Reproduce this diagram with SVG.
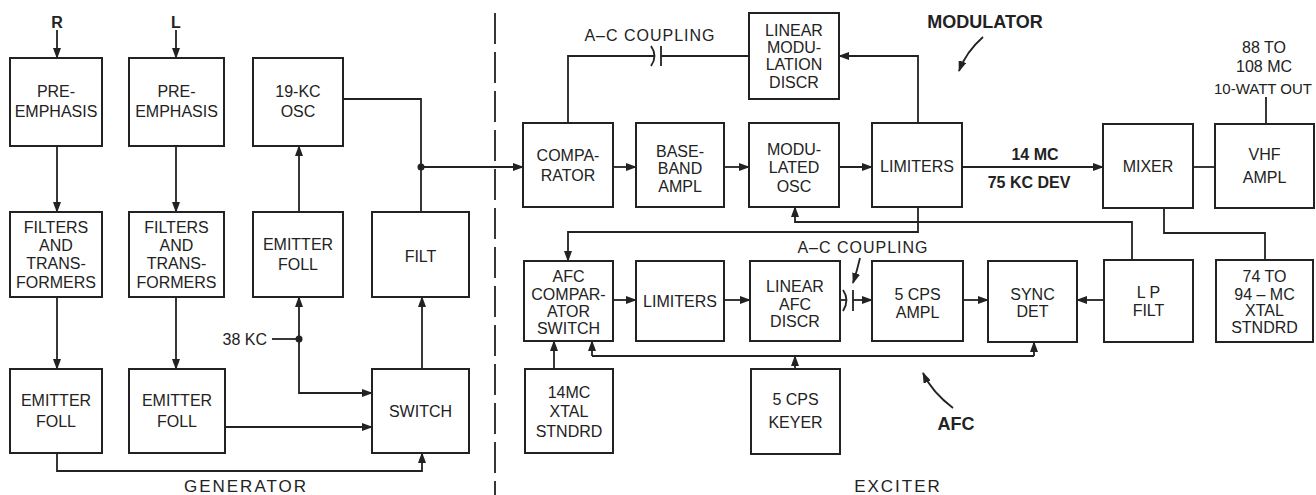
<svg xmlns="http://www.w3.org/2000/svg" width="1316" height="495" viewBox="0 0 1316 495">
<defs>
<marker id="ah" markerUnits="userSpaceOnUse" markerWidth="11" markerHeight="8" refX="10" refY="4" orient="auto">
<path d="M0,0 L11,4 L0,8 z" fill="#222"/>
</marker>
<style>
.b{fill:#fff;stroke:#222;stroke-width:2}
.t{font-family:"Liberation Sans",Arial,sans-serif;font-size:16px;fill:#222;text-anchor:middle}
.l{font-family:"Liberation Sans",Arial,sans-serif;font-size:16px;fill:#222}
.big{font-family:"Liberation Sans",Arial,sans-serif;font-size:17px;fill:#222;text-anchor:middle;letter-spacing:2px}
.c{fill:none;stroke:#222;stroke-width:1.8}
.a{marker-end:url(#ah)}
</style>
</defs>
<rect width="1316" height="495" fill="#fff"/>
<g id="connectors">
<path class="c a" d="M57,30 V58"/>
<path class="c a" d="M176,30 V58"/>
<path class="c a" d="M57,146 V212"/>
<path class="c a" d="M176,146 V212"/>
<path class="c a" d="M57,297 V369"/>
<path class="c a" d="M176,297 V369"/>
<path class="c a" d="M299,212 V146"/>
<path class="c" d="M272,339 H299"/>
<path class="c a" d="M299,339 V297"/>
<path class="c a" d="M299,339 V393 H372"/>
<circle cx="299" cy="339" r="3.5" fill="#222"/>
<path class="c a" d="M225,427 H372"/>
<path class="c a" d="M57,453 V471 H422 V453"/>
<path class="c a" d="M422,369 V297"/>
<path class="c" d="M343,99 H421 V212"/>
<circle cx="421" cy="167" r="3.5" fill="#222"/>
<path class="c a" d="M421,167 H523"/>
<path class="c a" d="M613,167 H636"/>
<path class="c a" d="M724,167 H749"/>
<path class="c a" d="M839,167 H872"/>
<path class="c a" d="M962,167 H1103"/>
<path class="c" d="M1193,167 H1215"/>
<path class="c" d="M1266,124 V97"/>
<path class="c" d="M1164,208 V233 H1265 V260"/>
<path class="c a" d="M918,123 V56 H839"/>
<path class="c" d="M749,56 H661"/>
<path class="c" d="M661,46 V66"/>
<path class="c" d="M651,46 Q658,56 651,66"/>
<path class="c" d="M655,56 H568 V123"/>
<path class="c a" d="M918,207 V232 H568 V261"/>
<path class="c a" d="M1132,260 V222 H795 V207"/>
<path class="c a" d="M1104,300 H1077"/>
<path class="c a" d="M613,300 H636"/>
<path class="c a" d="M724,300 H750"/>
<path class="c" d="M840,300 H847"/>
<path class="c" d="M843,290 Q850,300 843,311"/>
<path class="c" d="M853,290 V311"/>
<path class="c a" d="M853,300 H872"/>
<path class="c a" d="M963,300 H988"/>
<path class="c a" d="M554,369 V341"/>
<path class="c" d="M592,356 H1034"/>
<path class="c a" d="M592,356 V341"/>
<path class="c a" d="M1034,356 V342"/>
<path class="c a" d="M795,369 V356"/>
<path class="c a" d="M983,37 Q966,52 959,71"/>
<path class="c a" d="M953,408 Q932,392 923,373"/>
<path class="c a" d="M860,258 Q857,271 853,283"/>
<path d="M495,13 V495" stroke="#222" stroke-width="1.8" stroke-dasharray="31 8"/>
</g>
<g id="preR"><rect class="b" x="10" y="58" width="92" height="88"/><text class="t" x="56" y="97">PRE-</text><text class="t" x="56" y="117">EMPHASIS</text></g>
<g id="preL"><rect class="b" x="129" y="58" width="95" height="88"/><text class="t" x="176.5" y="97">PRE-</text><text class="t" x="176.5" y="117">EMPHASIS</text></g>
<g id="osc19"><rect class="b" x="253" y="58" width="90" height="88"/><text class="t" x="298" y="97">19-KC</text><text class="t" x="298" y="117">OSC</text></g>
<g id="filtR"><rect class="b" x="10" y="212" width="92" height="85"/><text class="t" x="56" y="233">FILTERS</text><text class="t" x="56" y="251">AND</text><text class="t" x="56" y="269">TRANS-</text><text class="t" x="56" y="288">FORMERS</text></g>
<g id="filtL"><rect class="b" x="129" y="212" width="95" height="85"/><text class="t" x="176.5" y="233">FILTERS</text><text class="t" x="176.5" y="251">AND</text><text class="t" x="176.5" y="269">TRANS-</text><text class="t" x="176.5" y="288">FORMERS</text></g>
<g id="efMid"><rect class="b" x="253" y="212" width="90" height="85"/><text class="t" x="298" y="250">EMITTER</text><text class="t" x="298" y="270">FOLL</text></g>
<g id="efR"><rect class="b" x="10" y="369" width="92" height="84"/><text class="t" x="56" y="406">EMITTER</text><text class="t" x="56" y="427">FOLL</text></g>
<g id="efL"><rect class="b" x="129" y="369" width="96" height="84"/><text class="t" x="177" y="406">EMITTER</text><text class="t" x="177" y="427">FOLL</text></g>
<g id="filt"><rect class="b" x="372" y="212" width="97" height="85"/><text class="t" x="420.5" y="262">FILT</text></g>
<g id="switch"><rect class="b" x="372" y="369" width="97" height="84"/><text class="t" x="420.5" y="417">SWITCH</text></g>
<g id="comparator"><rect class="b" x="523" y="123" width="90" height="84"/><text class="t" x="568" y="161">COMPA-</text><text class="t" x="568" y="181">RATOR</text></g>
<g id="baseband"><rect class="b" x="636" y="123" width="88" height="84"/><text class="t" x="680" y="157">BASE-</text><text class="t" x="680" y="174">BAND</text><text class="t" x="680" y="192">AMPL</text></g>
<g id="modosc"><rect class="b" x="749" y="123" width="90" height="84"/><text class="t" x="794" y="155">MODU-</text><text class="t" x="794" y="173">LATED</text><text class="t" x="794" y="192">OSC</text></g>
<g id="limiters"><rect class="b" x="872" y="123" width="90" height="84"/><text class="t" x="917" y="172">LIMITERS</text></g>
<g id="lmd"><rect class="b" x="749" y="13" width="90" height="86"/><text class="t" x="794" y="36">LINEAR</text><text class="t" x="794" y="53">MODU-</text><text class="t" x="794" y="70">LATION</text><text class="t" x="794" y="88">DISCR</text></g>
<g id="mixer"><rect class="b" x="1103" y="124" width="90" height="84"/><text class="t" x="1148" y="172">MIXER</text></g>
<g id="vhf"><rect class="b" x="1215" y="124" width="99" height="84"/><text class="t" x="1264.5" y="160">VHF</text><text class="t" x="1264.5" y="183">AMPL</text></g>
<g id="afccomp"><rect class="b" x="524" y="261" width="89" height="80"/><text class="t" x="568.5" y="282">AFC</text><text class="t" x="568.5" y="300">COMPAR-</text><text class="t" x="568.5" y="317">ATOR</text><text class="t" x="568.5" y="334">SWITCH</text></g>
<g id="xtal14"><rect class="b" x="525" y="369" width="88" height="84"/><text class="t" x="569" y="398">14MC</text><text class="t" x="569" y="417">XTAL</text><text class="t" x="569" y="437">STNDRD</text></g>
<g id="limafc"><rect class="b" x="636" y="261" width="88" height="80"/><text class="t" x="680" y="307">LIMITERS</text></g>
<g id="lafc"><rect class="b" x="750" y="261" width="90" height="80"/><text class="t" x="795" y="292">LINEAR</text><text class="t" x="795" y="310">AFC</text><text class="t" x="795" y="327">DISCR</text></g>
<g id="cps5ampl"><rect class="b" x="872" y="261" width="91" height="80"/><text class="t" x="917.5" y="300">5 CPS</text><text class="t" x="917.5" y="318">AMPL</text></g>
<g id="syncdet"><rect class="b" x="988" y="261" width="89" height="81"/><text class="t" x="1032.5" y="300">SYNC</text><text class="t" x="1032.5" y="317">DET</text></g>
<g id="lpfilt"><rect class="b" x="1104" y="260" width="89" height="82"/><text class="t" x="1148.5" y="298">L P</text><text class="t" x="1148.5" y="316">FILT</text></g>
<g id="xtal74"><rect class="b" x="1216" y="260" width="97" height="82"/><text class="t" x="1264.5" y="282">74  TO</text><text class="t" x="1264.5" y="300">94 – MC</text><text class="t" x="1264.5" y="316">XTAL</text><text class="t" x="1264.5" y="333">STNDRD</text></g>
<g id="keyer"><rect class="b" x="751" y="369" width="89" height="85"/><text class="t" x="795.5" y="405">5 CPS</text><text class="t" x="795.5" y="428">KEYER</text></g>
<g id="labels">
<text class="t" x="57" y="28" style="font-weight:bold">R</text>
<text class="t" x="176" y="28" style="font-weight:bold">L</text>
<text class="l" x="267" y="345" text-anchor="end">38 KC</text>
<text class="t" x="650" y="41" style="letter-spacing:1px">A–C COUPLING</text>
<text class="t" x="863" y="253" style="letter-spacing:1px">A–C  COUPLING</text>
<text class="t" x="985" y="28" style="font-size:18px;font-weight:bold">MODULATOR</text>
<text class="t" x="1035" y="160" style="font-weight:bold">14 MC</text>
<text class="t" x="1029" y="188" style="font-weight:bold">75 KC DEV</text>
<text class="t" x="1264" y="53">88 TO</text>
<text class="t" x="1264" y="72">108 MC</text>
<text class="t" x="1263" y="94" style="font-size:15px">10-WATT OUT</text>
<text class="t" x="956" y="430" style="font-size:18px;font-weight:bold">AFC</text>
<text class="big" x="246" y="492">GENERATOR</text>
<text class="big" x="898" y="492">EXCITER</text>
</g>
</svg>
